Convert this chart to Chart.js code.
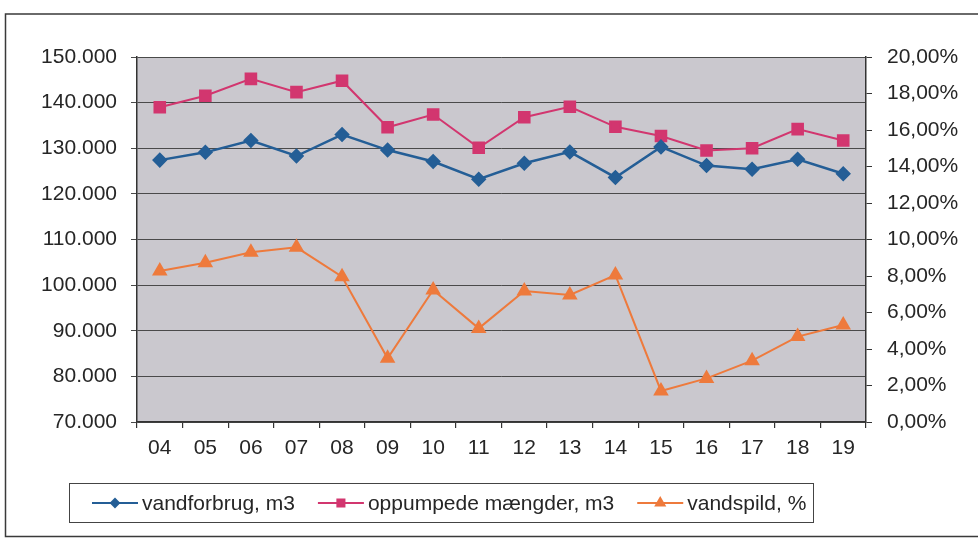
<!DOCTYPE html>
<html>
<head>
<meta charset="utf-8">
<script src="https://cdn.jsdelivr.net/npm/chart.js@4/dist/chart.umd.min.js"></script>
<style>
  html, body { margin: 0; padding: 0; background: #fff; }
  #wrap { position: absolute; left: 0; top: 0; width: 978px; height: 538px; }
</style>
</head>
<body>
<div id="wrap"><canvas id="c" width="978" height="538"></canvas></div>
<script>
// ---- data ----
const years = ['04','05','06','07','08','09','10','11','12','13','14','15','16','17','18','19'];
const vandforbrug = [127400,129100,131700,128300,133000,129600,127100,123200,126700,129200,123600,130300,126200,125400,127600,124400];
const oppumpede   = [139000,141500,145200,142300,144800,134600,137400,130100,136800,139100,134700,132700,129500,130000,134200,131700];
const vandspild   = [0.0827,0.0873,0.093,0.0957,0.0796,0.0349,0.0723,0.0513,0.0718,0.0696,0.0805,0.017,0.0239,0.0336,0.0468,0.0532];
const seriesNames = ['vandforbrug, m3', 'oppumpede mængder, m3', 'vandspild, %'];
const leftTicks  = { min: 70000, max: 150000, step: 10000 };
const rightTicks = { min: 0, max: 0.20, step: 0.02 };

const FONT = 'Liberation Sans, Arial, sans-serif';
const TXT = '#262626';
const BLUE = '#245e96';
const PINK = '#d2366f';
const ORANGE = '#ee7a3c';

const fmtThousands = v => Math.round(v).toString().replace(/\B(?=(\d{3})+(?!\d))/g, '.');
const fmtPct = v => (v * 100).toFixed(2).replace('.', ',') + '%';

const framePlugin = {
  id: 'frame',
  beforeDraw(chart) {
    const ctx = chart.ctx, a = chart.chartArea;
    ctx.save();
    ctx.fillStyle = '#fff';
    ctx.fillRect(0, 0, chart.width, chart.height);
    // outer frame
    ctx.strokeStyle = '#3a3a3a';
    ctx.lineWidth = 1.5;
    ctx.beginPath();
    ctx.moveTo(chart.width + 2, 14);
    ctx.lineTo(5.5, 14);
    ctx.lineTo(5.5, 536.5);
    ctx.lineTo(chart.width + 2, 536.5);
    ctx.stroke();
    // plot area background
    ctx.fillStyle = '#cac8ce';
    ctx.fillRect(a.left, a.top, a.right - a.left, a.bottom - a.top);
    ctx.restore();
  }
};

const legendPlugin = {
  id: 'boxLegend',
  afterDraw(chart) {
    const ctx = chart.ctx;
    ctx.save();
    ctx.strokeStyle = '#444';
    ctx.lineWidth = 1;
    ctx.strokeRect(69.5, 483.5, 744, 39);
    ctx.font = '21px ' + FONT;
    ctx.textBaseline = 'middle';
    ctx.textAlign = 'left';
    let x = 92;
    const y = 503;
    chart.data.datasets.forEach(ds => {
      ctx.strokeStyle = ds.borderColor;
      ctx.lineWidth = 2;
      ctx.beginPath();
      ctx.moveTo(x, y);
      ctx.lineTo(x + 46, y);
      ctx.stroke();
      ctx.fillStyle = ds.pointBackgroundColor;
      ctx.strokeStyle = ds.pointBorderColor;
      Chart.helpers.drawPoint(ctx, { pointStyle: ds.pointStyle, radius: ds.legendRadius, rotation: 0, borderWidth: 1 }, x + 23, y);
      ctx.fillStyle = TXT;
      ctx.fillText(ds.label, x + 50, y + 1);
      x += 50 + ctx.measureText(ds.label).width + 23;
    });
    ctx.restore();
  }
};

new Chart(document.getElementById('c'), {
  type: 'line',
  data: {
    labels: years,
    datasets: [
      { label: seriesNames[0], data: vandforbrug, yAxisID: 'y', borderColor: BLUE, borderWidth: 2.5,
        pointStyle: 'rectRot', pointRadius: 6, pointBackgroundColor: BLUE, pointBorderColor: BLUE, legendRadius: 4 },
      { label: seriesNames[1], data: oppumpede, yAxisID: 'y', borderColor: PINK, borderWidth: 2,
        pointStyle: 'rect', pointRadius: 7.5, pointBackgroundColor: PINK, pointBorderColor: PINK, legendRadius: 5 },
      { label: seriesNames[2], data: vandspild, yAxisID: 'y1', borderColor: ORANGE, borderWidth: 2,
        pointStyle: 'triangle', pointRadius: 7, pointBackgroundColor: ORANGE, pointBorderColor: ORANGE, legendRadius: 5 }
    ]
  },
  options: {
    responsive: false,
    animation: false,
    devicePixelRatio: 1,
    layout: { padding: { top: 57, left: 0, right: 0, bottom: 0 } },
    plugins: { legend: { display: false }, tooltip: { enabled: false } },
    elements: { line: { tension: 0 } },
    scales: {
      x: {
        offset: true,
        grid: { display: true, offset: true, drawOnChartArea: false, drawTicks: true, tickLength: 6, color: '#333', lineWidth: 1.2 },
        border: { display: true, color: '#333', width: 1.5 },
        ticks: { color: TXT, font: { family: FONT, size: 21 }, padding: 8, maxRotation: 0 },
        afterFit(s) { s.height = 116; }
      },
      y: {
        position: 'left',
        min: leftTicks.min, max: leftTicks.max,
        grid: { color: '#4a4a4a', lineWidth: 1, tickLength: 6 },
        border: { display: true, color: '#333', width: 1.5 },
        ticks: { stepSize: leftTicks.step, color: TXT, font: { family: FONT, size: 21 }, padding: 14,
          callback: v => fmtThousands(v) },
        afterFit(s) { s.width = 137; }
      },
      y1: {
        position: 'right',
        min: rightTicks.min, max: rightTicks.max,
        grid: { drawOnChartArea: false, color: '#333', tickLength: 6 },
        border: { display: true, color: '#333', width: 1.5 },
        ticks: { stepSize: rightTicks.step, color: TXT, font: { family: FONT, size: 21 }, padding: 15,
          callback: v => fmtPct(v) },
        afterFit(s) { s.width = 112; }
      }
    }
  },
  plugins: [framePlugin, legendPlugin]
});
</script>
</body>
</html>
